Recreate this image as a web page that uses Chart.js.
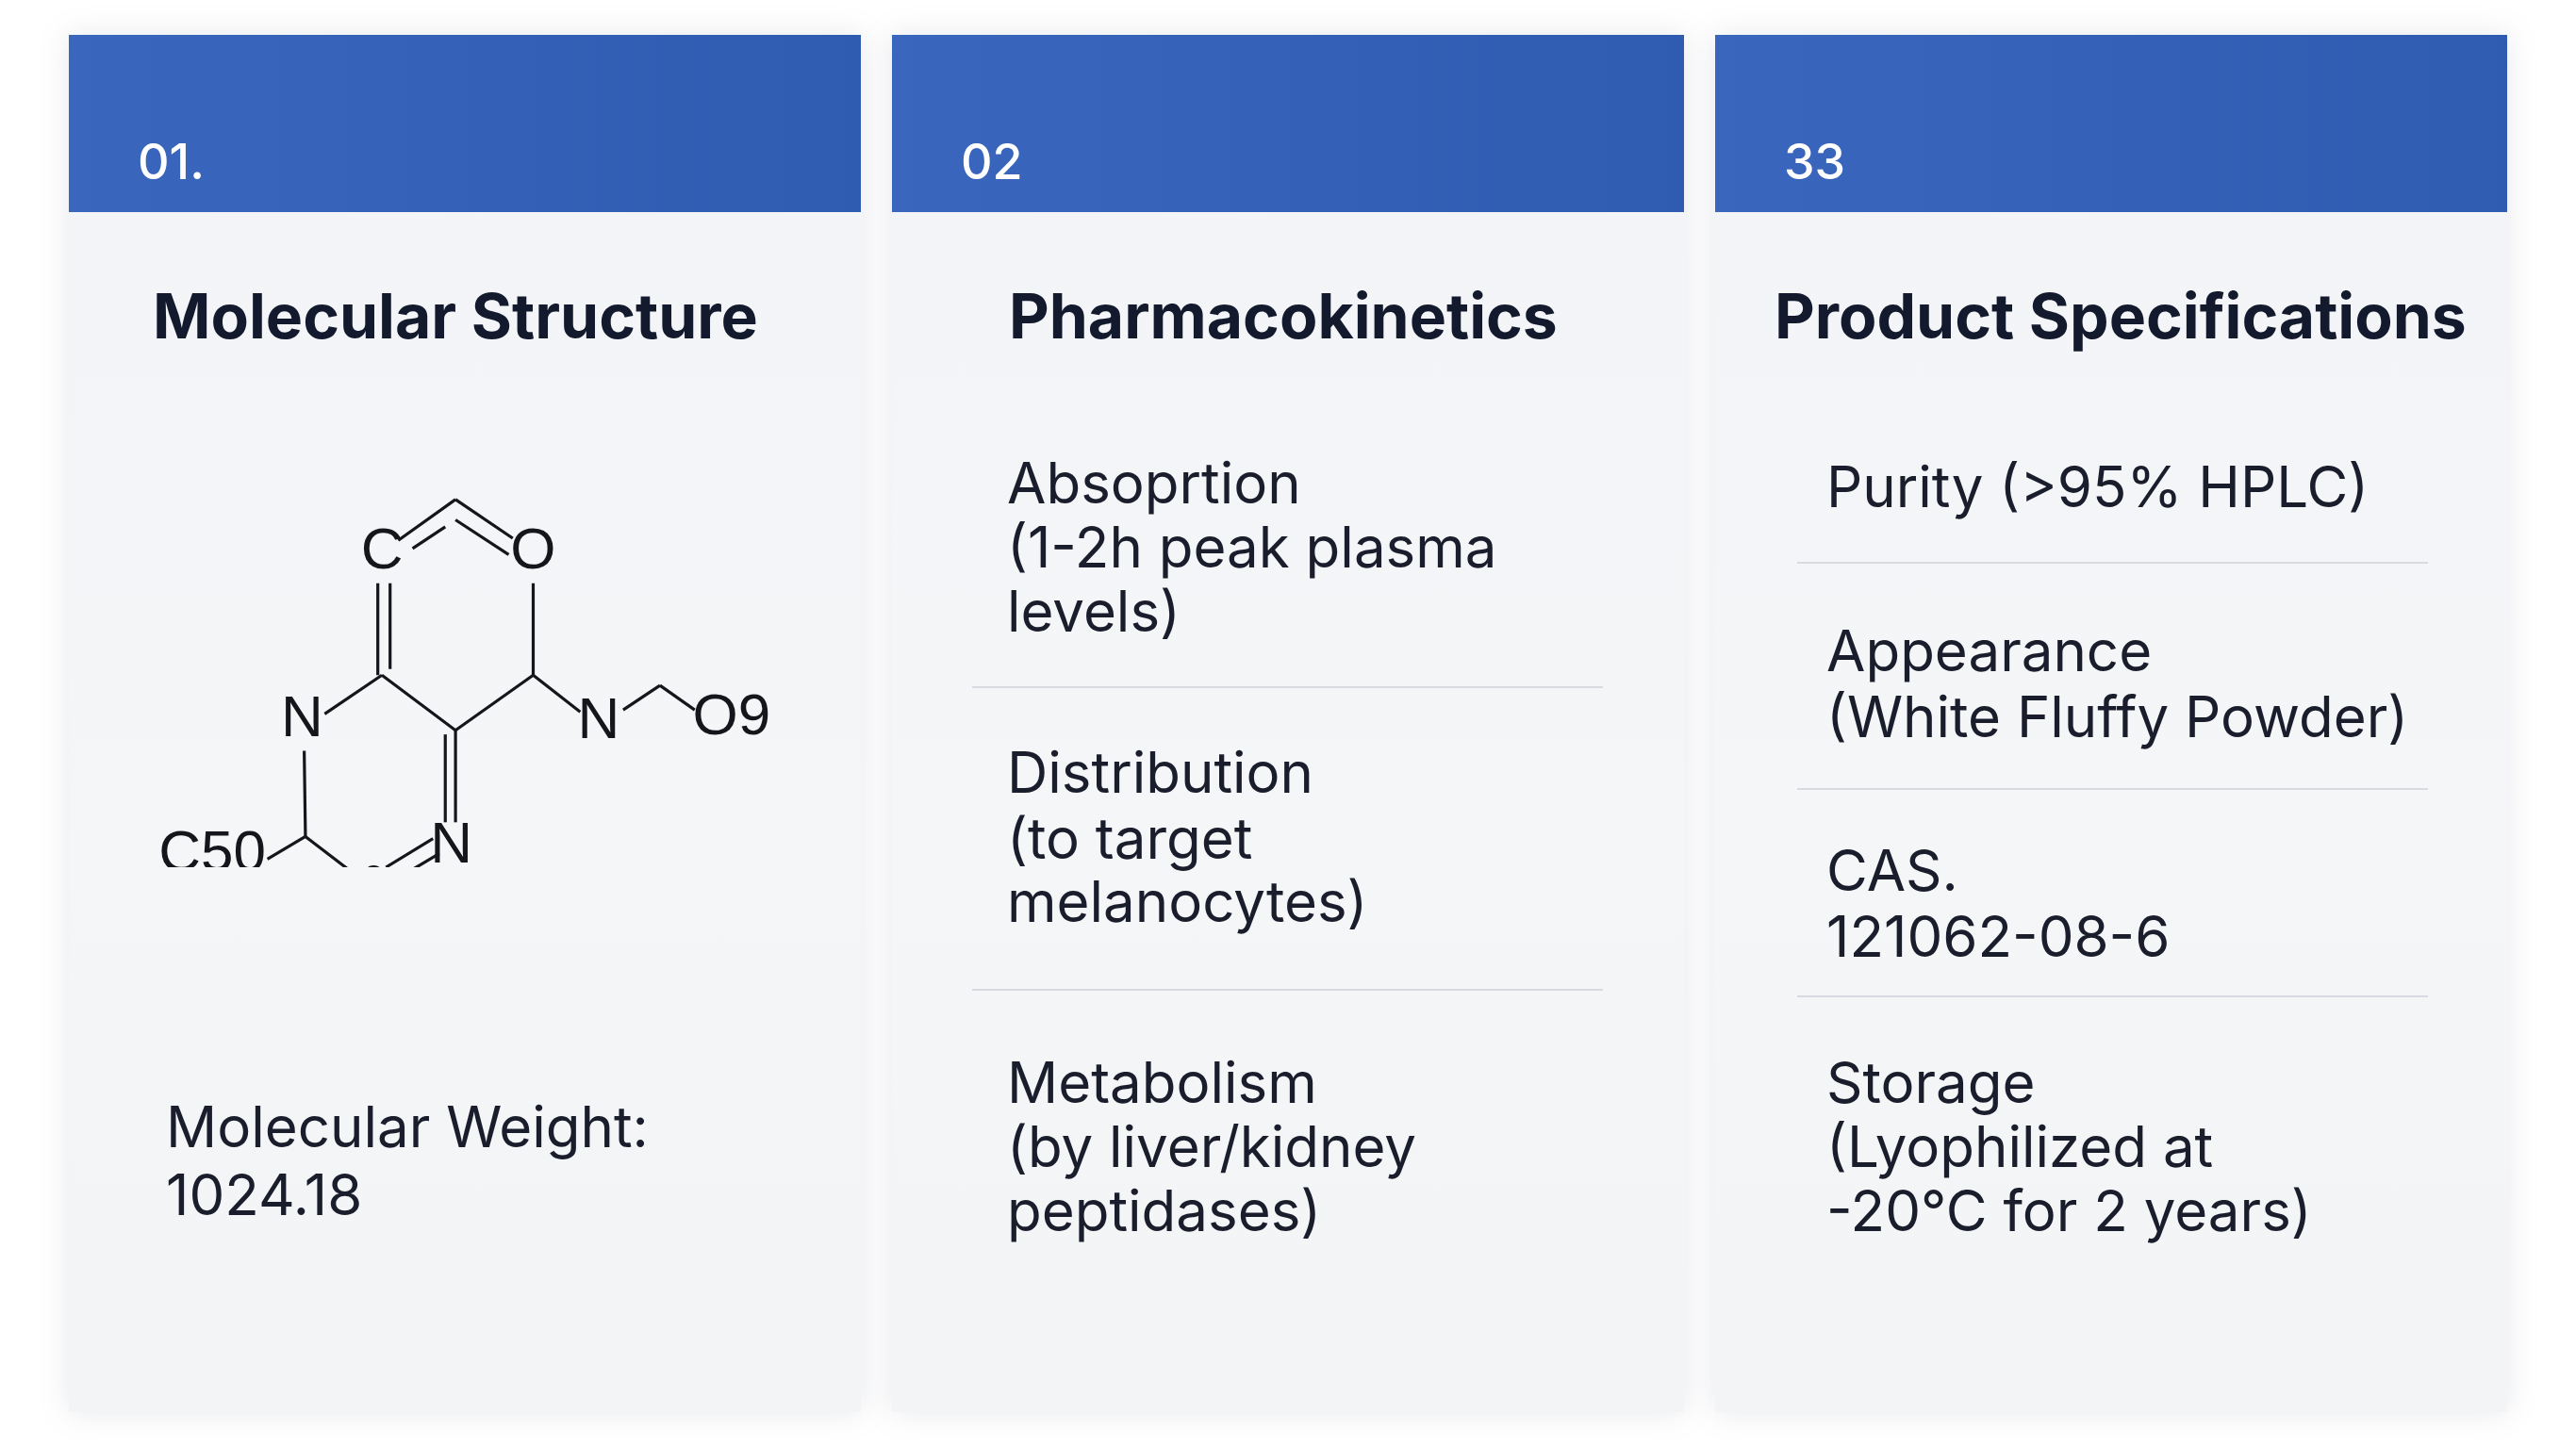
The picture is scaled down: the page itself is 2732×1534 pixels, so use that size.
<!DOCTYPE html>
<html><head><meta charset="utf-8">
<script src="https://cdn.jsdelivr.net/npm/chart.js@4"></script>
<style>
html,body{margin:0;padding:0;background:#fff;width:2732px;height:1534px;overflow:hidden;font-family:Inter,"Noto Sans",sans-serif;color:#15182a}
.card{position:absolute;top:37px;width:840px;height:1461px;background:linear-gradient(180deg,#f2f4f7 0%,#f5f6f8 60%,#f3f4f6 100%);box-shadow:0 0 30px rgba(120,130,150,0.18)}
.hdr{position:absolute;left:0;top:0;width:100%;height:188px;background:linear-gradient(90deg,#3a66bd,#2f5bb1);}
.num{position:absolute;left:73px;top:134px;transform:translateY(-50%);color:#fff;font-size:52px;font-weight:500}
.t{position:absolute;transform:translateY(-50%);white-space:nowrap}
.title{font-size:66px;font-weight:700;color:#141a2e}
.body{font-size:60px;color:#1a1d2b}
.div{position:absolute;height:2px;background:#d7dbe1}
#molwrap{position:absolute;left:160px;top:480px;width:680px;height:440px}
</style></head><body>
<div class="card" style="left:73px"><div class="hdr"><div class="num">01.</div></div></div>
<div class="card" style="left:946px"><div class="hdr"><div class="num">02</div></div></div>
<div class="card" style="left:1819px"><div class="hdr"><div class="num">33</div></div></div>

<div class="t title" style="left:162px;top:335px">Molecular Structure</div>
<div class="t title" style="left:1070px;top:335px">Pharmacokinetics</div>
<div class="t title" style="left:1882px;top:335px">Product Specifications</div>

<div class="t body" style="left:176px;top:1195px">Molecular Weight:</div>
<div class="t body" style="left:176px;top:1267px">1024.18</div>

<div class="t body" style="left:1068px;top:512px">Absoprtion</div>
<div class="t body" style="left:1068px;top:580px">(1-2h peak plasma</div>
<div class="t body" style="left:1068px;top:648px">levels)</div>
<div class="div" style="left:1031px;width:669px;top:728px"></div>
<div class="t body" style="left:1068px;top:819px">Distribution</div>
<div class="t body" style="left:1068px;top:889px">(to target</div>
<div class="t body" style="left:1068px;top:956px">melanocytes)</div>
<div class="div" style="left:1031px;width:669px;top:1049px"></div>
<div class="t body" style="left:1068px;top:1148px">Metabolism</div>
<div class="t body" style="left:1068px;top:1216px">(by liver/kidney</div>
<div class="t body" style="left:1068px;top:1284px">peptidases)</div>

<div class="t body" style="left:1937px;top:516px">Purity (&gt;95% HPLC)</div>
<div class="div" style="left:1906px;width:669px;top:596px"></div>
<div class="t body" style="left:1937px;top:690px">Appearance</div>
<div class="t body" style="left:1937px;top:760px">(White Fluffy Powder)</div>
<div class="div" style="left:1906px;width:669px;top:836px"></div>
<div class="t body" style="left:1937px;top:923px">CAS.</div>
<div class="t body" style="left:1937px;top:993px">121062-08-6</div>
<div class="div" style="left:1906px;width:669px;top:1056px"></div>
<div class="t body" style="left:1937px;top:1148px">Storage</div>
<div class="t body" style="left:1937px;top:1216px">(Lyophilized at</div>
<div class="t body" style="left:1937px;top:1284px">-20°C for 2 years)</div>

<div id="molwrap"><canvas id="mol"></canvas></div>
<script>
// bond segments in drawing units [x1,y1,x2,y2]
const bonds = [
 [605,215,745,115],[640,235,720,182],
 [745,115,885,210],[745,165,875,250],
 [555,320,555,545],[585,320,585,530],
 [935,320,935,545],
 [935,545,745,680],
 [565,545,745,680],
 [565,545,425,640],
 [375,730,378,940],
 [378,940,285,995],
 [378,940,515,1045],
 [590,1050,705,982],[575,1015,690,945],
 [720,905,720,690],[745,905,745,680],
 [935,545,1050,635],
 [1155,630,1245,570],
 [1245,570,1330,630]
];
const atomLabels = ["C","O","N","N","O9","C50","N","0"];
const atomX = [565,935,370,1095,1420,150,735,545];
const atomY = [245,245,655,660,650,985,965,1055];
const formula = "C50H69N15O9";
const formulaX = 690, formulaY = 1230;

const datasets = bonds.map(b => ({
  data:[{x:b[0],y:b[1]},{x:b[2],y:b[3]}],
  showLine:true, borderColor:'#15161c', borderWidth:3.2, pointRadius:0, fill:false
}));
const labelPlugin = {
  id:'labels',
  afterDatasetsDraw(chart){
    const c = chart.ctx, xs = chart.scales.x, ys = chart.scales.y;
    c.save(); c.fillStyle='#15161c'; c.textAlign='center'; c.textBaseline='middle';
    atomLabels.forEach((l,i)=>{
      c.font = (l==="0" ? '44px' : '62px') + ' "Liberation Sans", Arial, sans-serif';
      c.fillText(l, xs.getPixelForValue(atomX[i]), ys.getPixelForValue(atomY[i]));
    });
    c.font = '68px "Liberation Sans", Arial, sans-serif';
    c.fillText(formula, xs.getPixelForValue(formulaX), ys.getPixelForValue(formulaY));
    c.restore();
  }
};
new Chart(document.getElementById('mol'), {
  type:'scatter',
  data:{datasets},
  options:{
    responsive:true, maintainAspectRatio:false, animation:false,
    layout:{padding:0},
    plugins:{legend:{display:false},tooltip:{enabled:false}},
    scales:{
      x:{type:'linear',min:0,max:1568,display:false},
      y:{type:'linear',min:0,max:1015,reverse:true,display:false}
    }
  },
  plugins:[labelPlugin]
});
</script>
</body></html>
